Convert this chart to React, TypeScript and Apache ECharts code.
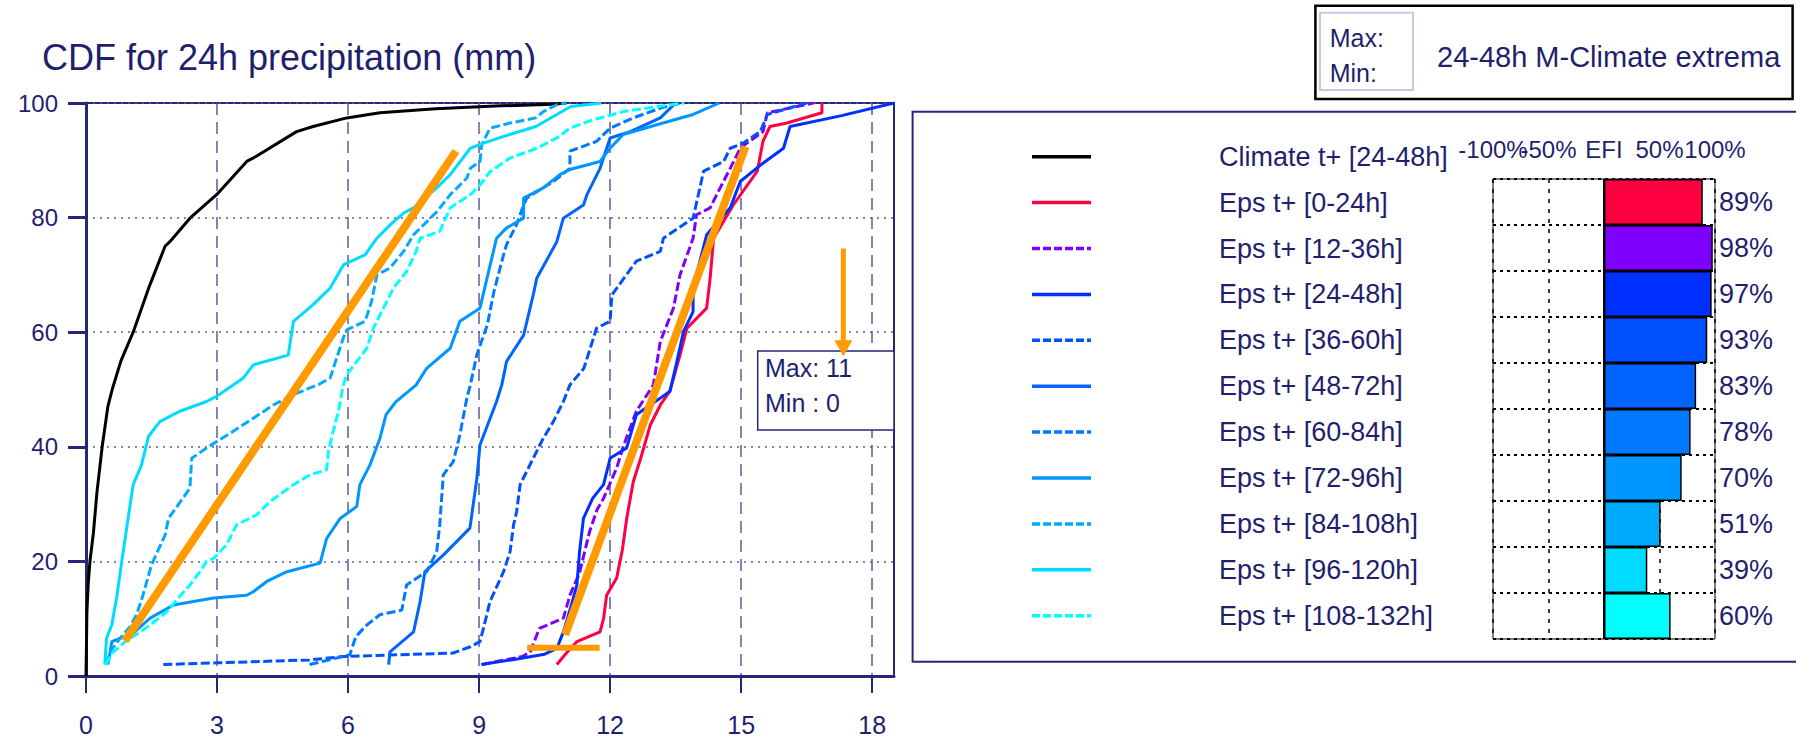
import React, { useEffect, useRef } from "react";
import * as echarts from "echarts";

type Pt = [number, number];

// ---- series meta ----
const seriesNames = [
  "Climate t+ [24-48h]",
  "Eps t+ [0-24h]",
  "Eps t+ [12-36h]",
  "Eps t+ [24-48h]",
  "Eps t+ [36-60h]",
  "Eps t+ [48-72h]",
  "Eps t+ [60-84h]",
  "Eps t+ [72-96h]",
  "Eps t+ [84-108h]",
  "Eps t+ [96-120h]",
  "Eps t+ [108-132h]",
];
const seriesColors = [
  "#000000",
  "#ff0040",
  "#8000ff",
  "#0030ff",
  "#0050ff",
  "#0064ff",
  "#0078ff",
  "#0096ff",
  "#00aaff",
  "#00dcff",
  "#00ffff",
];
const seriesDashed = [false, false, true, false, true, false, true, false, true, false, true];

// ---- CDF curves: [precipitation mm, cumulative %] ----
const climate24_48: Pt[] = [
  [0, 0], [0.01, 5], [0.02, 11], [0.05, 16], [0.09, 20], [0.17, 25], [0.25, 32], [0.37, 40],
  [0.5, 47], [0.6, 50], [0.8, 55], [1.08, 60], [1.45, 68], [1.81, 75], [1.92, 75.8], [2.38, 79.9],
  [2.99, 84], [3.68, 89.8], [3.9, 90.7], [4.82, 95], [5.2, 95.9], [5.97, 97.4], [6.73, 98.3],
  [8.0, 99], [9.5, 99.5], [10.7, 99.8], [11, 100],
];
const eps0_24: Pt[] = [
  [10.78, 2], [11.0, 4], [11.24, 6], [11.77, 7.7], [11.85, 10], [11.92, 14.1], [12.15, 17.1],
  [12.28, 22], [12.38, 27.5], [12.53, 33.9], [12.7, 38], [12.92, 43.8], [13.15, 47.3], [13.37, 49.7],
  [13.6, 56], [13.76, 60.7], [14.21, 64.2], [14.29, 69.4], [14.37, 76.4], [14.82, 82.2], [15.37, 88.1],
  [15.5, 93.3], [15.66, 95.9], [16.05, 96.5], [16.85, 98.3], [16.85, 100],
];
const eps12_36: Pt[] = [
  [9.07, 2], [9.99, 3.4], [10.17, 4.2], [10.38, 8.3], [10.93, 10.1], [11.08, 14.1], [11.3, 18],
  [11.53, 25.2], [11.7, 29], [11.85, 31], [12.15, 36.3], [12.3, 40], [12.6, 46.2], [12.99, 50.8],
  [13.15, 58.4], [13.45, 64.2], [13.6, 70], [13.9, 76.4], [13.98, 80.5], [14.29, 81.7], [14.44, 84],
  [14.75, 88.6], [14.98, 92.1], [15.13, 93], [15.5, 95], [15.6, 98.3], [16.66, 100],
];
const eps24_48: Pt[] = [
  [9.05, 2], [9.9, 3], [10.5, 3.8], [10.78, 4.8], [10.93, 7.7], [11.1, 12], [11.24, 15.9], [11.3, 21.7],
  [11.39, 27.5], [11.6, 31], [11.85, 33.4], [12.0, 38], [12.38, 39.8], [12.6, 45.6], [13.15, 48.5],
  [13.37, 49.7], [13.53, 54.9], [13.68, 60.1], [13.9, 63.6], [13.9, 67.7], [14.21, 77], [14.75, 81.7],
  [14.98, 86.3], [15.5, 89.5], [15.97, 92.1], [16.12, 95.9], [17.3, 97.8], [18.5, 100],
];
const eps36_60: Pt[] = [
  [1.77, 2], [3.0, 2.3], [5.12, 2.8], [5.9, 3.4], [8.4, 4], [8.8, 5.1], [9.02, 6], [9.1, 8.3],
  [9.25, 13], [9.56, 18.2], [9.71, 21.7], [9.79, 26.4], [9.86, 28.7], [9.94, 33.4], [10.24, 38],
  [10.47, 41.5], [10.7, 44.4], [10.93, 47.9], [11.08, 50.8], [11.4, 53.7], [11.69, 60.7], [12.0, 61.9],
  [12.04, 66.5], [12.6, 72.4], [13.15, 74.1], [13.22, 76.4], [13.9, 79.9], [14.14, 88.1], [14.6, 89.8],
  [14.75, 92.1], [15.05, 93], [15.44, 95], [15.6, 98], [16.5, 100],
];
const eps48_72: Pt[] = [
  [6.93, 2], [6.96, 4.2], [7.5, 7.7], [7.65, 13], [7.76, 18.2], [8.18, 21.1], [8.79, 25.8], [8.95, 34.5],
  [9.02, 40.3], [9.4, 47.9], [9.52, 50.8], [9.63, 54.9], [10.02, 59.5], [10.24, 66.5], [10.32, 69.4],
  [10.78, 75.8], [10.93, 79.9], [11.39, 82.2], [11.47, 84], [11.77, 88.6], [12.0, 93.9], [12.46, 95],
  [13.15, 97.4], [13.5, 100],
];
const eps60_84: Pt[] = [
  [5.12, 2], [6.04, 3.7], [6.18, 6.9], [6.43, 8.9], [6.73, 10.7], [7.23, 11.5], [7.34, 15.9], [7.8, 18.2],
  [8.03, 21.7], [8.1, 26.4], [8.18, 35.1], [8.41, 37.4], [8.56, 42.1], [8.72, 48.5], [8.8, 50.8],
  [8.95, 56.1], [9.19, 61.3], [9.34, 67.1], [9.56, 73.5], [9.63, 75.3], [9.86, 78.8], [10.02, 82.2],
  [10.09, 83.4], [10.7, 86.3], [11.08, 88.6], [11.08, 91.6], [11.69, 93.3], [12.0, 95.6], [12.53, 97.4],
  [13.15, 99.1], [13.6, 100],
];
const eps72_96: Pt[] = [
  [0.5, 2], [0.55, 4], [0.59, 6], [1.08, 7.5], [1.47, 10.1], [2.0, 12.4], [2.92, 13.6], [3.68, 14.1],
  [3.83, 14.7], [4.14, 16.5], [4.6, 18.2], [5.36, 19.7], [5.51, 24], [5.82, 27.5], [6.2, 29.6],
  [6.27, 33.4], [6.5, 36.8], [6.73, 41.5], [6.87, 45.6], [7.1, 47.9], [7.56, 50.8], [7.8, 53.7],
  [8.34, 57.2], [8.56, 61.9], [9.02, 64.2], [9.2, 70], [9.4, 76.4], [9.63, 78.2], [10.02, 79.9],
  [10.02, 83.4], [10.47, 85.2], [10.85, 87.5], [11.08, 88.4], [11.77, 89.8], [12.0, 92.1], [12.3, 94.5],
  [13.07, 96.2], [13.9, 98], [14.5, 100],
];
const eps84_108: Pt[] = [
  [0.45, 2], [0.55, 4.2], [0.78, 6.6], [1.0, 8.5], [1.16, 10.7], [1.3, 14], [1.5, 19.4], [1.81, 24.6],
  [1.89, 27.5], [2.38, 32.8], [2.42, 38], [2.76, 39.8], [3.37, 42.7], [3.83, 45], [4.29, 47.3],
  [4.75, 49.1], [5.36, 51], [5.59, 52], [5.89, 59], [5.97, 60.4], [6.39, 61.9], [6.54, 65.4], [6.66, 70],
  [6.96, 71.2], [7.27, 74.1], [7.5, 77], [8.03, 81], [8.34, 84], [8.72, 86.9], [8.8, 88.6], [9.02, 89.8],
  [9.06, 92.7], [9.25, 95.6], [9.71, 96.5], [10.3, 97.4], [10.47, 98.5], [10.78, 99.7], [11.0, 100],
];
const eps96_120: Pt[] = [
  [0.43, 2], [0.47, 6.6], [0.59, 8.9], [0.7, 13.6], [0.82, 20], [0.93, 25.8], [1.08, 33.4], [1.27, 36.8],
  [1.43, 41.8], [1.69, 44.4], [2.15, 46.2], [2.76, 47.9], [2.99, 48.8], [3.37, 50.8], [3.6, 52],
  [3.83, 54.3], [4.63, 56], [4.75, 61.9], [5.2, 64.8], [5.59, 67.7], [5.9, 71.8], [6.39, 73.5],
  [6.66, 76.4], [7.0, 79], [7.27, 80.8], [7.5, 81.7], [8.03, 85.2], [8.34, 87.5], [8.8, 92.1], [9.1, 93],
  [9.7, 94.5], [10.3, 95.9], [10.78, 98], [11.1, 99.4], [11.8, 100],
];
const eps108_132: Pt[] = [
  [0.45, 2], [0.6, 4], [0.9, 6], [1.2, 7.5], [1.47, 8.9], [1.85, 11.2], [2.1, 13.5], [2.38, 15.9],
  [2.61, 18.2], [2.76, 20], [2.92, 20.5], [3.22, 22.9], [3.45, 26.4], [3.9, 28.1], [4.21, 30.4],
  [4.75, 33.4], [5.13, 35.1], [5.51, 36], [5.55, 39.2], [5.66, 42.7], [5.78, 46.2], [5.89, 50.8],
  [5.97, 52.6], [6.2, 54.9], [6.43, 57.2], [6.58, 60.7], [6.81, 64.2], [7.04, 67.7], [7.34, 70.6],
  [7.56, 74.1], [7.65, 76.4], [8.1, 77.6], [8.34, 81.7], [8.8, 84], [9.02, 85.7], [9.25, 88],
  [9.71, 90.4], [10.32, 92.1], [10.78, 93.9], [11.08, 95.6], [11.5, 96.8], [12.3, 98.5], [13.1, 99.4],
  [13.7, 100],
];

const cdfCurves: Pt[][] = [
  climate24_48, eps0_24, eps12_36, eps24_48, eps36_60, eps48_72,
  eps60_84, eps72_96, eps84_108, eps96_120, eps108_132,
];

// ---- axes ----
const xTicks = [0, 3, 6, 9, 12, 15, 18];
const xMax = 18.5;
const yTicks = [0, 20, 40, 60, 80, 100];
// EFI scale labels, split over two top axes so that the crowded ones all stay visible
const efiLabelsMain = [-100, 0, 50, 100];
const efiLabelsExtra = [-50];

// ---- Extreme Forecast Index per EPS range (%) ----
const efiValues = [89, 98, 97, 93, 83, 78, 70, 51, 39, 60];

// ---- M-climate extrema ----
const mClimateMax = climate24_48[climate24_48.length - 1][0];
const mClimateMin = climate24_48[0][0];

// ---- orange hand-drawn marks ----
const steepLeft: Pt[] = [[0.89, 6.1], [8.47, 91.6]];
const steepRight: Pt[] = [[10.97, 7.2], [15.1, 92.4]];
const baseMark: Pt[] = [[10.1, 4.95], [11.76, 4.95]];
const arrowDown: Pt[] = [[17.34, 74.6], [17.34, 57.2]];

const FONT = '"Liberation Sans", Arial, Helvetica, sans-serif';
const NAVY = "#1f1f6e";
const FRAME = "#27277a";
const GRID_C = "#5c5c96";
const ORANGE = "#ff9a00";

const efiFormat = (v: number) => (v === 0 ? "EFI" : `${v}%`);

function buildOption(): any {
  const graphics: any[] = [];

  // chart title
  graphics.push({
    type: "text", x: 42, y: 57, z: 5,
    style: { text: "CDF for 24h precipitation (mm)", fontSize: 36, fontFamily: FONT, fill: NAVY, verticalAlign: "middle" },
  });

  // max/min box inside the plot
  graphics.push({
    type: "rect", z: 5,
    shape: { x: 757.7, y: 351, width: 136.3, height: 79 },
    style: { fill: "#ffffff", stroke: FRAME, lineWidth: 1.5 },
  });
  graphics.push({
    type: "text", x: 765, y: 368, z: 6,
    style: { text: `Max: ${mClimateMax}`, fontSize: 25, fontFamily: FONT, fill: NAVY, verticalAlign: "middle" },
  });
  graphics.push({
    type: "text", x: 765, y: 403, z: 6,
    style: { text: `Min : ${mClimateMin}`, fontSize: 25, fontFamily: FONT, fill: NAVY, verticalAlign: "middle" },
  });

  // top-right key box
  graphics.push({
    type: "rect", z: 5,
    shape: { x: 1315.4, y: 5.7, width: 477.2, height: 93.3 },
    style: { fill: "#ffffff", stroke: "#000000", lineWidth: 2.5 },
  });
  graphics.push({
    type: "rect", z: 6,
    shape: { x: 1320, y: 12.7, width: 93, height: 77.3 },
    style: { fill: "none", stroke: "#c9c9e6", lineWidth: 2 },
  });
  graphics.push({
    type: "text", x: 1329.7, y: 38, z: 7,
    style: { text: "Max:", fontSize: 25, fontFamily: FONT, fill: NAVY, verticalAlign: "middle" },
  });
  graphics.push({
    type: "text", x: 1329.7, y: 73, z: 7,
    style: { text: "Min:", fontSize: 25, fontFamily: FONT, fill: NAVY, verticalAlign: "middle" },
  });
  graphics.push({
    type: "text", x: 1437, y: 57, z: 7,
    style: { text: "24-48h M-Climate extrema", fontSize: 29, fontFamily: FONT, fill: NAVY, verticalAlign: "middle" },
  });

  // legend panel
  graphics.push({
    type: "rect", z: 1,
    shape: { x: 912.6, y: 111.7, width: 900, height: 550 },
    style: { fill: "none", stroke: FRAME, lineWidth: 2 },
  });
  const rowY0 = 156.7;
  const rowStep = 45.9;
  seriesNames.forEach((name, i) => {
    const y = rowY0 + i * rowStep;
    graphics.push({
      type: "line", z: 5,
      shape: { x1: 1032, y1: y, x2: 1091, y2: y },
      style: { stroke: seriesColors[i], lineWidth: 3.5, lineDash: seriesDashed[i] ? [8, 3] : null },
    });
    graphics.push({
      type: "text", x: 1219, y, z: 5,
      style: { text: name, fontSize: 27, fontFamily: FONT, fill: NAVY, verticalAlign: "middle" },
    });
  });

  const curveSeries = cdfCurves.map((pts, i) => ({
    name: seriesNames[i],
    type: "line",
    xAxisIndex: 0,
    yAxisIndex: 0,
    data: pts,
    symbol: "none",
    showSymbol: false,
    z: 2 + i * 0.01,
    lineStyle: { color: seriesColors[i], width: 3, type: seriesDashed[i] ? [9, 3.5] : "solid" },
  }));

  const markSeries: any[] = [steepLeft, steepRight].map((pts) => ({
    type: "line", xAxisIndex: 0, yAxisIndex: 0, data: pts, symbol: "none", z: 20,
    lineStyle: { color: ORANGE, width: 8, cap: "butt" },
  }));
  markSeries.push({
    type: "line", xAxisIndex: 0, yAxisIndex: 0, data: baseMark, symbol: "none", z: 20,
    lineStyle: { color: ORANGE, width: 6, cap: "butt" },
  });
  const arrowSeries = {
    type: "line", xAxisIndex: 0, yAxisIndex: 0, z: 20,
    showSymbol: true,
    data: [
      { value: arrowDown[0], symbol: "none" },
      { value: arrowDown[1], symbol: "triangle", symbolSize: [18, 16], symbolRotate: 180 },
    ],
    itemStyle: { color: ORANGE, borderWidth: 0 },
    lineStyle: { color: ORANGE, width: 5 },
  };

  const efiSeries = {
    type: "bar",
    xAxisIndex: 1,
    yAxisIndex: 1,
    barWidth: "100%",
    z: 3,
    data: efiValues.map((v, i) => ({ value: v, itemStyle: { color: seriesColors[i + 1] } })),
    itemStyle: { borderColor: "#000000", borderWidth: 1.5 },
    markLine: {
      silent: true,
      symbol: "none",
      label: { show: false },
      lineStyle: { color: "#000000", width: 2, type: "solid" },
      data: [{ xAxis: 0 }],
    },
  };

  return {
    animation: false,
    backgroundColor: "#ffffff",
    textStyle: { fontFamily: FONT },
    grid: [
      { left: 86, top: 103, width: 808, height: 573, show: true, borderColor: FRAME, borderWidth: 2 },
      { left: 1493, top: 179, width: 222, height: 460, show: true, borderColor: "#000000", borderWidth: 1 },
    ],
    xAxis: [
      {
        gridIndex: 0, type: "value", min: 0, max: xMax, interval: 3,
        axisLine: { show: true, onZero: false, lineStyle: { color: FRAME, width: 3 } },
        axisTick: { show: true, length: 17, customValues: xTicks, lineStyle: { color: FRAME, width: 2 } },
        axisLabel: { customValues: xTicks, margin: 36, fontSize: 25, color: NAVY, fontFamily: FONT },
        splitLine: { show: true, lineStyle: { color: GRID_C, width: 1.5, type: [12, 7] } },
      },
      {
        gridIndex: 1, type: "value", min: -100, max: 100, interval: 50, position: "top", offset: 0,
        axisLine: { show: false },
        axisTick: { show: false },
        axisLabel: {
          customValues: efiLabelsMain,
          margin: 18, fontSize: 24, color: NAVY, fontFamily: FONT,
          showMinLabel: true, showMaxLabel: true, hideOverlap: false,
          formatter: efiFormat,
        },
        splitLine: { show: true, lineStyle: { color: "#000000", width: 1.5, type: [4, 6] } },
      },
      {
        gridIndex: 1, type: "value", min: -100, max: 100, interval: 50, position: "top", offset: 0,
        axisLine: { show: false },
        axisTick: { show: false },
        axisLabel: {
          customValues: efiLabelsExtra,
          margin: 18, fontSize: 24, color: NAVY, fontFamily: FONT,
          showMinLabel: true, showMaxLabel: true, hideOverlap: false,
          formatter: efiFormat,
        },
        splitLine: { show: false },
      },
    ],
    yAxis: [
      {
        gridIndex: 0, type: "value", min: yTicks[0], max: yTicks[yTicks.length - 1], interval: 20,
        axisLine: { show: true, onZero: false, lineStyle: { color: FRAME, width: 3 } },
        axisTick: { show: true, length: 18, lineStyle: { color: FRAME, width: 3 } },
        axisLabel: { margin: 28, fontSize: 24, color: NAVY, fontFamily: FONT },
        splitLine: { show: true, lineStyle: { color: GRID_C, width: 1.5, type: [2, 5] } },
      },
      {
        gridIndex: 1, type: "category", data: seriesNames.slice(1), inverse: true,
        axisLine: { show: false }, axisTick: { show: false }, axisLabel: { show: false },
        splitLine: { show: true, lineStyle: { color: "#000000", width: 2, type: [3, 4] } },
      },
      {
        gridIndex: 1, type: "category", position: "right", inverse: true,
        data: efiValues.map((v) => `${v}%`),
        axisLine: { show: false }, axisTick: { show: false },
        axisLabel: { margin: 4, fontSize: 27, color: NAVY, fontFamily: FONT },
        splitLine: { show: false },
      },
    ],
    graphic: graphics,
    series: [...curveSeries, ...markSeries, arrowSeries, efiSeries],
  };
}

export default function App() {
  const ref = useRef<HTMLDivElement>(null);
  useEffect(() => {
    if (!ref.current) return;
    const chart = echarts.init(ref.current, undefined, { renderer: "svg" });
    chart.setOption(buildOption());
    return () => chart.dispose();
  }, []);
  return (
    <div
      ref={ref}
      style={{ position: "fixed", left: 0, top: 0, width: 1796, height: 739, background: "#ffffff" }}
    />
  );
}
